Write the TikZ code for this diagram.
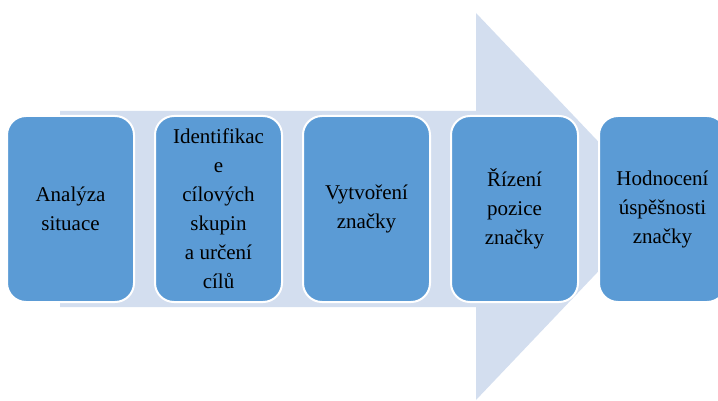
\documentclass[tikz,border=0pt]{standalone}
\usepackage{fontspec}
\setmainfont{Liberation Serif}
\usetikzlibrary{positioning}
\definecolor{arrowblue}{HTML}{D3DEEF}
\definecolor{boxblue}{HTML}{5B9BD5}

\begin{document}
\begin{tikzpicture}[x=1pt, y=-1pt, node distance=19pt,
  stepbox/.style={draw=white, line width=2pt, fill=boxblue, rounded corners=19pt,
    minimum width=127pt, minimum height=186pt, inner sep=0pt, align=center,
    font=\fontsize{21}{29}\selectfont}]
  % canvas 718 x 401, y runs downwards
  \clip (0,0) rectangle (718,401);
  % big arrow behind the steps
  \fill[arrowblue] (60,111) -- (476,111) -- (476,13) -- (660,206.5)
    -- (476,400) -- (476,307) -- (60,307) -- cycle;
  \node[stepbox] (analyza) at (70.5,209) {Analýza\\situace};
  \node[stepbox, right=of analyza] (cile) {Identifikac\\e\\cílových\\skupin\\a určení\\cílů};
  \node[stepbox, right=of cile] (vytvoreni) {Vytvoření\\značky};
  \node[stepbox, right=of vytvoreni] (rizeni) {Řízení\\pozice\\značky};
  \node[stepbox, right=of rizeni] (hodnoceni) {Hodnocení\\úspěšnosti\\značky};
\end{tikzpicture}
\end{document}
